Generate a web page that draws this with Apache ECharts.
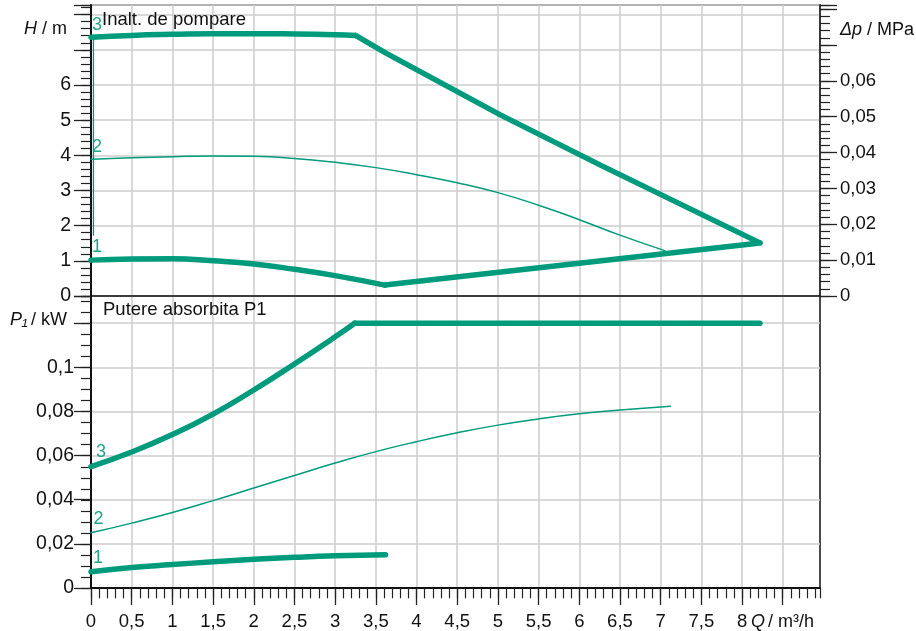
<!DOCTYPE html>
<html>
<head>
<meta charset="utf-8">
<script src="https://cdn.jsdelivr.net/npm/echarts@6/dist/echarts.min.js"></script>
<style>
  html, body { margin: 0; padding: 0; background: #fff; }
  #chart { width: 916px; height: 631px; }
</style>
</head>
<body>
<div id="chart"></div>
<script>
// pump curves: Q in m³/h, H in m, P1 in kW
const headCurve3 = [[0, 7.36], [0.5, 7.41], [1, 7.44], [1.5, 7.46], [2, 7.46], [2.5, 7.45], [3, 7.43], [3.25, 7.41]]
const headDrop3 = [[3.25, 7.41], [3.63, 6.9], [5.03, 5.15], [6.26, 3.72], [8.22, 1.51]]
const headCurve2 = [[0, 3.89], [0.5, 3.93], [1, 3.96], [1.5, 3.98], [2, 3.97], [2.5, 3.91], [3, 3.8], [3.5, 3.65],
  [4, 3.45], [4.5, 3.22], [5, 2.94], [5.5, 2.58], [6, 2.17], [6.5, 1.73], [7.05, 1.29]]
const headCurve1 = [[0, 1.02], [0.5, 1.05], [1, 1.06], [1.5, 1.0], [2, 0.91], [2.5, 0.76], [3, 0.58], [3.61, 0.31]]
const headRise1 = [[3.61, 0.31], [8.22, 1.51]]
const headEdge = [[0.03, 7.36], [0.03, 1.73]]

const powerCurve3 = [[0, 0.055], [0.5, 0.0616], [1, 0.0695], [1.5, 0.0788], [2, 0.0897], [2.5, 0.1015], [3, 0.1138], [3.24, 0.12]]
const powerFlat3 = [[3.24, 0.12], [8.22, 0.12]]
const powerCurve2 = [[0, 0.025], [0.5, 0.0294], [1, 0.0342], [1.5, 0.0396], [2, 0.0453], [2.5, 0.051], [3, 0.0566],
  [3.5, 0.0618], [4, 0.0663], [4.5, 0.0703], [5, 0.0738], [5.5, 0.0766], [6, 0.0789], [6.5, 0.0806], [7.12, 0.0824]]
const powerCurve1 = [[0, 0.0074], [0.5, 0.0093], [1, 0.0106], [1.5, 0.0119], [2, 0.013], [2.5, 0.0139], [3, 0.0146], [3.62, 0.0151]]

// tick labels
const qLabels = [0, 0.5, 1, 1.5, 2, 2.5, 3, 3.5, 4, 4.5, 5, 5.5, 6, 6.5, 7, 7.5, 8]
const qMajorTicks = [0, 0.5, 1, 1.5, 2, 2.5, 3, 3.5, 4, 4.5, 5, 5.5, 6, 6.5, 7, 7.5, 8, 8.5]
const hLabels = [0, 1, 2, 3, 4, 5, 6]
const dpLabels = [0, 0.01, 0.02, 0.03, 0.04, 0.05, 0.06]
const pLabels = [0, 0.02, 0.04, 0.06, 0.08, 0.1]

const Q_MAX = 8.958
const H_MAX = 8.274
const DP_MAX = H_MAX * 0.0098067
const P_MAX = 0.1323

const FONT = 'Liberation Sans, Arial, sans-serif'
const GREEN = '#009b7c'
const LABEL_GREEN = '#1fa68b'
const GRID_LINE = { show: true, lineStyle: { color: '#cdcdcd', width: 1.5 } }

const has = (list, v) => list.some(t => Math.abs(t - v) < 1e-6)
const comma = v => String(+v.toFixed(3)).replace('.', ',')
const fmt = list => v => has(list, v) ? comma(v) : ''

const chart = echarts.init(document.getElementById('chart'))

const majorY = (grid, pos, max, interval, labels, margin, size, split) => ({
  type: 'value', gridIndex: grid, position: pos, min: 0, max: max, interval: interval,
  axisLine: { show: true, onZero: false, lineStyle: { color: '#111', width: pos === 'left' ? 2 : 1.5 } },
  axisTick: { show: true, inside: false, length: 17, lineStyle: { color: '#222', width: 1.3 } },
  axisLabel: { margin: margin, fontSize: size, color: '#111', fontFamily: FONT, formatter: fmt(labels) },
  splitLine: split ? GRID_LINE : { show: false }
})
const minorY = (grid, pos, max, interval) => ({
  type: 'value', gridIndex: grid, position: pos, min: 0, max: max, interval: interval,
  axisLine: { show: false },
  axisTick: { show: true, inside: false, length: 10, lineStyle: { color: '#222', width: 1.2 } },
  axisLabel: { show: false },
  splitLine: { show: false }
})

const line = (xi, yi, data, width, smooth) => ({
  type: 'line', xAxisIndex: xi, yAxisIndex: yi, data: data,
  showSymbol: false, symbol: 'none', smooth: smooth, z: 5,
  lineStyle: { color: GREEN, width: width, cap: 'round', join: 'round' }
})

const txt = (x, y, text, opts) => ({
  type: 'text', z: 100,
  style: Object.assign({
    x: x, y: y, text: text, fill: '#111', font: '18px ' + FONT,
    textAlign: 'left', textVerticalAlign: 'middle'
  }, opts || {})
})
const italic = 'italic 18px ' + FONT
const num = { fill: LABEL_GREEN, textAlign: 'center', font: '18px ' + FONT }

const option = {
  animation: false,
  backgroundColor: '#fff',
  grid: [
    { left: 91, top: 5, width: 729, height: 291, show: true, borderColor: '#333', borderWidth: 1.5 },
    { left: 91, top: 296, width: 729, height: 292.3, show: true, borderColor: '#111', borderWidth: 1.5 },
    { left: 91, top: 5, width: 729, height: 291 },
    { left: 91, top: 296, width: 729, height: 292.3 }
  ],
  xAxis: [
    {
      type: 'value', gridIndex: 0, min: 0, max: Q_MAX, interval: 0.5,
      axisLine: { show: true, lineStyle: { color: '#111', width: 1.5 } },
      axisTick: { show: false }, axisLabel: { show: false }, splitLine: GRID_LINE
    },
    {
      type: 'value', gridIndex: 1, min: 0, max: Q_MAX, interval: 0.5,
      axisLine: { show: true, lineStyle: { color: '#111', width: 2 } },
      axisTick: { show: true, inside: false, length: 17, customValues: qMajorTicks, lineStyle: { color: '#222', width: 1.3 } },
      axisLabel: { margin: 24, fontSize: 18.5, color: '#111', fontFamily: FONT, formatter: fmt(qLabels) },
      splitLine: GRID_LINE
    },
    { type: 'value', gridIndex: 2, min: 0, max: Q_MAX, show: false },
    {
      type: 'value', gridIndex: 3, min: 0, max: Q_MAX, interval: 0.1,
      axisLine: { show: false },
      axisTick: { show: true, inside: false, length: 10, lineStyle: { color: '#222', width: 1.2 } },
      axisLabel: { show: false }, splitLine: { show: false }
    }
  ],
  yAxis: [
    majorY(0, 'left', H_MAX, 1, hLabels, 20, 19.5, true),
    majorY(0, 'right', DP_MAX, 0.01, dpLabels, 20, 18.5, false),
    majorY(1, 'left', P_MAX, 0.02, pLabels, 17, 19.5, true),
    minorY(2, 'left', H_MAX, 0.2),
    minorY(2, 'right', DP_MAX, 0.002),
    minorY(3, 'left', P_MAX, 0.005)
  ],
  series: [
    line(0, 0, headCurve3, 5.5, true),
    line(0, 0, headDrop3, 5.5, false),
    line(0, 0, headCurve2, 1.5, true),
    line(0, 0, headCurve1, 5.5, true),
    line(0, 0, headRise1, 5.5, false),
    line(0, 0, headEdge, 1.3, false),
    line(1, 2, powerCurve3, 5.5, true),
    line(1, 2, powerFlat3, 5.5, false),
    line(1, 2, powerCurve2, 1.5, true),
    line(1, 2, powerCurve1, 5.5, true)
  ],
  graphic: [
    txt(102, 20, 'Inalt. de pompare', { font: '18.5px ' + FONT }),
    txt(103, 310, 'Putere absorbita P1', { font: '18.5px ' + FONT }),
    txt(24, 29, 'H', { font: italic }),
    txt(42, 29, '/ m'),
    txt(10, 320, 'P₁', { font: italic }),
    txt(31, 320, '/ kW'),
    txt(840, 30, 'Δp', { font: italic }),
    txt(867, 30, '/ MPa'),
    txt(751, 622, 'Q', { font: italic }),
    txt(768, 622, '/ m³/h'),
    txt(97, 25, '3', num),
    txt(97, 147, '2', num),
    txt(97, 247, '1', num),
    txt(101, 452, '3', num),
    txt(98.5, 519, '2', num),
    txt(98, 558, '1', num)
  ]
}

chart.setOption(option)
window.addEventListener('resize', () => chart.resize())
</script>
</body>
</html>
